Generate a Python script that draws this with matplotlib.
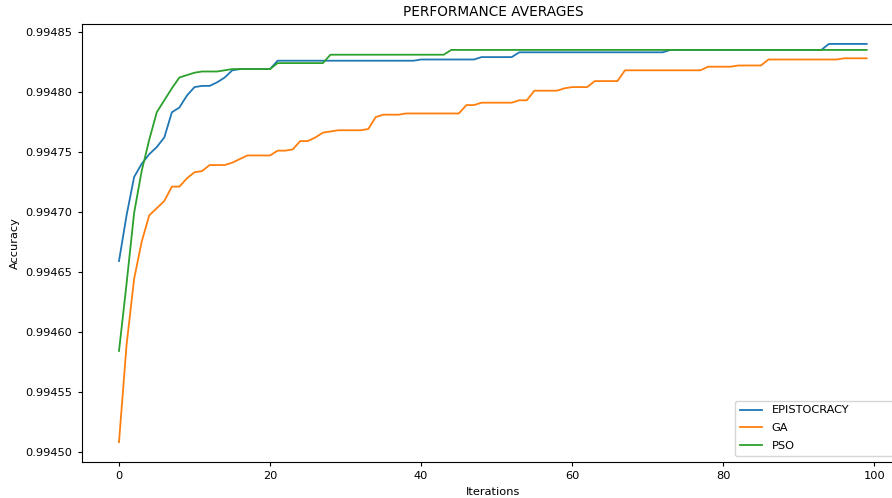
#!/usr/bin/env python
import matplotlib
matplotlib.use("Agg")
from matplotlib import pyplot as plt
from matplotlib.ticker import FormatStrFormatter

# averaged accuracy per iteration
iterations = list(range(100))

epistocracy = [0.994659, 0.994697, 0.994729, 0.994740, 0.994748, 0.994754, 0.994762, 0.994783,
               0.994787, 0.994797, 0.994804, 0.994805, 0.994805, 0.994808, 0.994812, 0.994818] \
    + [0.994819] * 5 + [0.994826] * 19 + [0.994827] * 8 + [0.994829] * 5 \
    + [0.994833] * 20 + [0.994835] * 21 + [0.994840] * 6

ga = [0.994508, 0.994589, 0.994644, 0.994675, 0.994697, 0.994703, 0.994709, 0.994721,
      0.994721, 0.994728, 0.994733, 0.994734, 0.994739, 0.994739, 0.994739, 0.994741,
      0.994744, 0.994747, 0.994747, 0.994747, 0.994747, 0.994751, 0.994751, 0.994752,
      0.994759, 0.994759, 0.994762, 0.994766, 0.994767] \
    + [0.994768] * 4 + [0.994769, 0.994779, 0.994781, 0.994781, 0.994781] \
    + [0.994782] * 8 + [0.994789, 0.994789] + [0.994791] * 5 + [0.994793, 0.994793] \
    + [0.994801] * 4 + [0.994803] + [0.994804] * 3 + [0.994809] * 4 \
    + [0.994818] * 11 + [0.994821] * 4 + [0.994822] * 4 + [0.994827] * 10 + [0.994828] * 4

pso = [0.994584, 0.994640, 0.994699, 0.994734, 0.994760, 0.994783, 0.994793, 0.994803,
       0.994812, 0.994814, 0.994816] \
    + [0.994817] * 3 + [0.994818] + [0.994819] * 6 + [0.994824] * 7 \
    + [0.994831] * 16 + [0.994835] * 56

fig = plt.figure(figsize=(8.92, 4.98), dpi=100)
# the original screenshot is cut off on the right, so the axes run past the edge
ax = fig.add_axes([0.0915, 0.0723, 0.922, 0.8795])

ax.plot(iterations, epistocracy, label="EPISTOCRACY", lw=1.3)
ax.plot(iterations, ga, label="GA", lw=1.3)
ax.plot(iterations, pso, label="PSO", lw=1.3)

ax.yaxis.set_major_formatter(FormatStrFormatter("%.5f"))
ax.tick_params(labelsize=8.2, length=3)
ax.set_title("PERFORMANCE AVERAGES", fontsize=9.8)
ax.set_xlabel("Iterations", fontsize=8.2)
ax.set_ylabel("Accuracy", fontsize=8.2)

# legend box also runs off the right edge in the reference
ax.legend(loc="lower left", bbox_to_anchor=(0.7945, 0.0137, 0.21, 0.2),
          mode="expand", borderaxespad=0, fontsize=8.2, labelspacing=0.7)

fig.savefig("out.png", dpi=100)
